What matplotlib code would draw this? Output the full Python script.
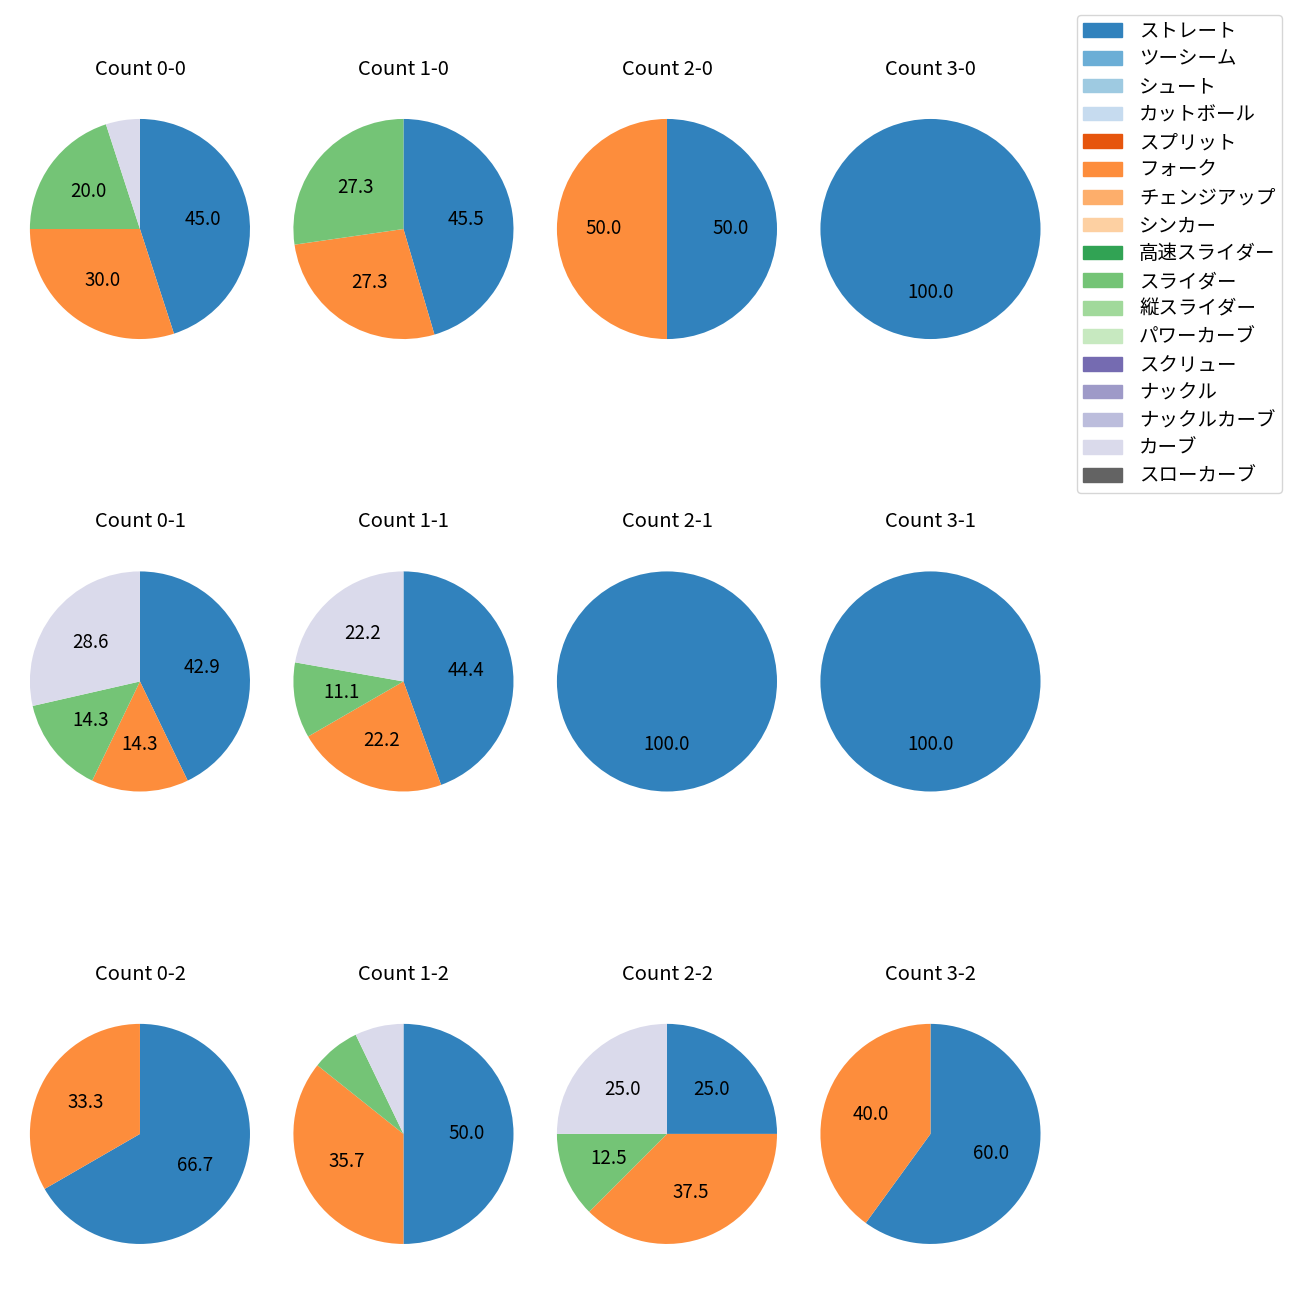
import matplotlib.pyplot as plt
from matplotlib.patches import Patch

plt.rcParams['font.family'] = ['Noto Sans CJK JP', 'DejaVu Sans']

pitch_types = ['ストレート', 'ツーシーム', 'シュート', 'カットボール', 'スプリット', 'フォーク',
               'チェンジアップ', 'シンカー', '高速スライダー', 'スライダー', '縦スライダー',
               'パワーカーブ', 'スクリュー', 'ナックル', 'ナックルカーブ', 'カーブ', 'スローカーブ']
colors = ['#3182bd', '#6baed6', '#9ecae1', '#c6dbef', '#e6550d', '#fd8d3c', '#fdae6b', '#fdd0a2',
          '#31a354', '#74c476', '#a1d99b', '#c7e9c0', '#756bb1', '#9e9ac8', '#bcbddc', '#dadaeb',
          '#636363']

# pitch counts per ball-strike count (only the used pitch types)
counts = {
    '0-0': {'ストレート': 9, 'フォーク': 6, 'スライダー': 4, 'カーブ': 1},
    '1-0': {'ストレート': 5, 'フォーク': 3, 'スライダー': 3},
    '2-0': {'ストレート': 1, 'フォーク': 1},
    '3-0': {'ストレート': 1},
    '0-1': {'ストレート': 3, 'フォーク': 1, 'スライダー': 1, 'カーブ': 2},
    '1-1': {'ストレート': 4, 'フォーク': 2, 'スライダー': 1, 'カーブ': 2},
    '2-1': {'ストレート': 1},
    '3-1': {'ストレート': 1},
    '0-2': {'ストレート': 2, 'フォーク': 1},
    '1-2': {'ストレート': 7, 'フォーク': 5, 'スライダー': 1, 'カーブ': 1},
    '2-2': {'ストレート': 2, 'フォーク': 3, 'スライダー': 1, 'カーブ': 2},
    '3-2': {'ストレート': 3, 'フォーク': 2},
}
strikes = [0, 1, 2]
balls = [0, 1, 2, 3]

color_of = dict(zip(pitch_types, colors))

fig, axes = plt.subplots(3, 4, figsize=(13, 13))
fig.subplots_adjust(left=0.0063, right=0.8171, top=0.9252, bottom=0.0264,
                    wspace=0, hspace=0.717)

for r, s in enumerate(strikes):
    for c, b in enumerate(balls):
        ax = axes[r, c]
        key = f'{b}-{s}'
        d = counts[key]
        vals = list(d.values())
        cols = [color_of[k] for k in d]
        ax.pie(vals, colors=cols, startangle=90, counterclock=False, radius=1.044,
               autopct=lambda p: f'{p:.1f}' if p >= 10 else '',
               pctdistance=0.6 / 1.044, textprops={'fontsize': 13.5})
        ax.set_title(f'Count {key}', fontsize=14.5, pad=16)

handles = [Patch(color=c) for c in colors]
fig.legend(handles, pitch_types, loc='upper left', bbox_to_anchor=(1077 / 1300, 1 - 15 / 1300),
           borderaxespad=0, fontsize=14, labelspacing=0.35, handletextpad=0.9,
           borderpad=0.3)

fig.savefig('out.png', dpi=100)
